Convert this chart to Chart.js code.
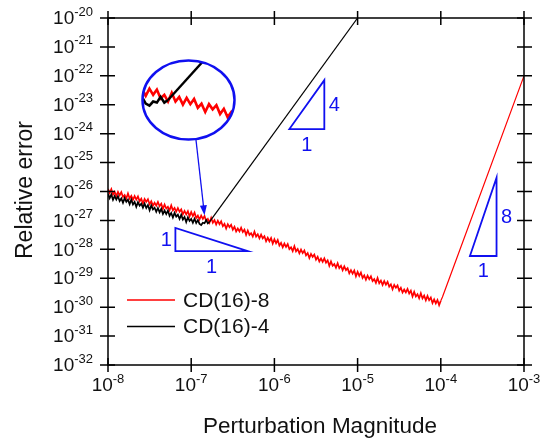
<!DOCTYPE html>
<html>
<head>
<meta charset="utf-8">
<script src="https://cdn.jsdelivr.net/npm/chart.js@4.4.1/dist/chart.umd.min.js"></script>
<style>
  html, body { margin: 0; padding: 0; background: #fff; }
  #wrap { position: relative; width: 543px; height: 442px; }
  #main { position: absolute; left: 0; top: 0; z-index: 2; }
  #zoomBox { position: absolute; left: 142px; top: 60px; width: 93px; height: 80px;
             border-radius: 50%; overflow: hidden; z-index: 1; }
</style>
</head>
<body>
<div id="wrap">
  <div id="zoomBox"><canvas id="inset" width="93" height="80"></canvas></div>
  <canvas id="main" width="543" height="442"></canvas>
</div>
<script>
// log10 of perturbation magnitude / relative error
const redExpX = [
  -8.00,-7.98,-7.96,-7.94,-7.92,-7.90,-7.88,-7.86,-7.84,-7.82,
  -7.80,-7.78,-7.76,-7.74,-7.72,-7.70,-7.68,-7.66,-7.64,-7.62,
  -7.60,-7.58,-7.56,-7.54,-7.52,-7.50,-7.48,-7.46,-7.44,-7.42,
  -7.40,-7.38,-7.36,-7.34,-7.32,-7.30,-7.28,-7.26,-7.24,-7.22,
  -7.20,-7.18,-7.16,-7.14,-7.12,-7.10,-7.08,-7.06,-7.04,-7.02,
  -7.00,-6.98,-6.96,-6.94,-6.92,-6.90,-6.88,-6.86,-6.84,-6.82,
  -6.80,-6.78,-6.76,-6.74,-6.72,-6.70,-6.68,-6.66,-6.64,-6.62,
  -6.60,-6.58,-6.56,-6.54,-6.52,-6.50,-6.48,-6.46,-6.44,-6.42,
  -6.40,-6.38,-6.36,-6.34,-6.32,-6.30,-6.28,-6.26,-6.24,-6.22,
  -6.20,-6.18,-6.16,-6.14,-6.12,-6.10,-6.08,-6.06,-6.04,-6.02,
  -6.00,-5.98,-5.96,-5.94,-5.92,-5.90,-5.88,-5.86,-5.84,-5.82,
  -5.80,-5.78,-5.76,-5.74,-5.72,-5.70,-5.68,-5.66,-5.64,-5.62,
  -5.60,-5.58,-5.56,-5.54,-5.52,-5.50,-5.48,-5.46,-5.44,-5.42,
  -5.40,-5.38,-5.36,-5.34,-5.32,-5.30,-5.28,-5.26,-5.24,-5.22,
  -5.20,-5.18,-5.16,-5.14,-5.12,-5.10,-5.08,-5.06,-5.04,-5.02,
  -5.00,-4.98,-4.96,-4.94,-4.92,-4.90,-4.88,-4.86,-4.84,-4.82,
  -4.80,-4.78,-4.76,-4.74,-4.72,-4.70,-4.68,-4.66,-4.64,-4.62,
  -4.60,-4.58,-4.56,-4.54,-4.52,-4.50,-4.48,-4.46,-4.44,-4.42,
  -4.40,-4.38,-4.36,-4.34,-4.32,-4.30,-4.28,-4.26,-4.24,-4.22,
  -4.20,-4.18,-4.16,-4.14,-4.12,-4.10,-4.08,-4.06,-4.04,-4.02,
  -4.00,-3.98,-3.00
];
const redExpY = [
  -25.91,-26.05,-25.92,-26.11,-26.01,-26.16,-26.01,-26.13,-26.02,-26.19,
  -26.12,-26.24,-26.07,-26.24,-26.15,-26.29,-26.16,-26.28,-26.17,-26.34,
  -26.25,-26.42,-26.26,-26.36,-26.27,-26.44,-26.34,-26.49,-26.39,-26.49,
  -26.36,-26.51,-26.42,-26.60,-26.45,-26.59,-26.53,-26.65,-26.48,-26.65,
  -26.57,-26.70,-26.57,-26.70,-26.62,-26.79,-26.67,-26.79,-26.68,-26.86,
  -26.71,-26.85,-26.73,-26.92,-26.83,-26.97,-26.83,-26.95,-26.85,-27.02,
  -26.95,-27.08,-26.91,-27.08,-26.99,-27.14,-27.01,-27.13,-27.03,-27.20,
  -27.12,-27.28,-27.13,-27.23,-27.15,-27.32,-27.22,-27.38,-27.28,-27.38,
  -27.25,-27.40,-27.32,-27.50,-27.35,-27.50,-27.44,-27.56,-27.39,-27.56,
  -27.48,-27.62,-27.49,-27.62,-27.55,-27.72,-27.60,-27.72,-27.61,-27.80,
  -27.65,-27.79,-27.68,-27.87,-27.78,-27.93,-27.80,-27.92,-27.82,-27.99,
  -27.93,-28.06,-27.89,-28.07,-27.99,-28.14,-28.01,-28.13,-28.04,-28.21,
  -28.13,-28.30,-28.16,-28.26,-28.18,-28.36,-28.26,-28.42,-28.32,-28.43,
  -28.31,-28.46,-28.38,-28.57,-28.42,-28.57,-28.51,-28.64,-28.48,-28.65,
  -28.57,-28.72,-28.59,-28.72,-28.65,-28.83,-28.72,-28.84,-28.73,-28.93,
  -28.78,-28.92,-28.80,-28.99,-28.90,-29.05,-28.91,-29.03,-28.93,-29.10,
  -29.03,-29.16,-28.99,-29.17,-29.08,-29.23,-29.10,-29.22,-29.12,-29.29,
  -29.21,-29.38,-29.23,-29.33,-29.25,-29.43,-29.33,-29.49,-29.39,-29.49,
  -29.37,-29.53,-29.43,-29.63,-29.47,-29.63,-29.55,-29.69,-29.52,-29.70,
  -29.60,-29.76,-29.61,-29.76,-29.67,-29.86,-29.73,-29.87,-29.75,-29.93,
  -29.78,-29.65,-22.00
];
const blackExpX = [
  -8.00,-7.98,-7.96,-7.94,-7.92,-7.90,-7.88,-7.86,-7.84,-7.82,
  -7.80,-7.78,-7.76,-7.74,-7.72,-7.70,-7.68,-7.66,-7.64,-7.62,
  -7.60,-7.58,-7.56,-7.54,-7.52,-7.50,-7.48,-7.46,-7.44,-7.42,
  -7.40,-7.38,-7.36,-7.34,-7.32,-7.30,-7.28,-7.26,-7.24,-7.22,
  -7.20,-7.18,-7.16,-7.14,-7.12,-7.10,-7.08,-7.06,-7.04,-7.02,
  -7.00,-6.98,-6.96,-6.94,-6.92,-6.90,-6.88,-6.86,-6.84,-6.82,
  -6.80,-6.78,-5.00
];
const blackExpY = [
  -26.08,-26.23,-26.10,-26.29,-26.16,-26.28,-26.16,-26.33,-26.24,-26.39,
  -26.23,-26.36,-26.28,-26.44,-26.28,-26.45,-26.36,-26.53,-26.37,-26.49,
  -26.42,-26.56,-26.42,-26.57,-26.47,-26.65,-26.48,-26.62,-26.56,-26.70,
  -26.57,-26.72,-26.60,-26.78,-26.66,-26.78,-26.66,-26.84,-26.74,-26.90,
  -26.74,-26.87,-26.80,-26.95,-26.80,-26.97,-26.88,-27.06,-26.89,-27.02,
  -26.95,-27.08,-26.94,-27.09,-26.99,-27.12,-27.16,-27.08,-27.10,-26.99,
  -27.10,-27.05,-20.00
];

const seriesNames = ['CD(16)-8', 'CD(16)-4'];
const xTickExp = [-8, -7, -6, -5, -4, -3];
const yTickExp = [-32, -31, -30, -29, -28, -27, -26, -25, -24, -23, -22, -21, -20];

// slope markers: [x0, x1, yLow, yHigh] as log10 values, plus the two labels
const slopeMarks = [
  { box: [-7.19, -6.32, -28.06, -27.26], rise: '1', run: '1', falling: true },
  { box: [-5.82, -5.40, -23.84, -22.15], rise: '4', run: '1', falling: false },
  { box: [-3.65, -3.33, -28.23, -25.52], rise: '8', run: '1', falling: false }
];
const arrowTip = [-6.84, -26.82];

const RED = '#ff0000';
const BLUE = '#1010f0';
const FONT = '"Liberation Sans", Arial, sans-serif';

const toPts = (xs, ys) => xs.map((e, i) => ({ x: Math.pow(10, e), y: Math.pow(10, ys[i]) }));

// noisy part drawn heavier, the clean straight rise drawn thin
function datasets(lw, riseLw) {
  const series = [
    { label: seriesNames[1], xs: blackExpX, ys: blackExpY, color: '#000', rise: 1 },
    { label: seriesNames[0], xs: redExpX, ys: redExpY, color: RED, rise: 2 }
  ];
  return series.map(s => ({
    label: s.label,
    data: toPts(s.xs, s.ys),
    borderColor: s.color,
    borderWidth: lw,
    pointRadius: 0,
    tension: 0,
    fill: false,
    segment: {
      borderWidth: c => (c.p1DataIndex >= s.xs.length - s.rise ? riseLw : lw)
    }
  }));
}

function powLabel(ctx, exp, x, y, align) {
  const base = '10', sup = String(exp);
  ctx.font = '19px ' + FONT;
  const w1 = ctx.measureText(base).width;
  ctx.font = '13px ' + FONT;
  const w2 = ctx.measureText(sup).width;
  let left = align === 'right' ? x - w1 - w2 : x - (w1 + w2) / 2;
  ctx.textAlign = 'left';
  ctx.textBaseline = 'middle';
  ctx.font = '19px ' + FONT;
  ctx.fillText(base, left, y + 1);
  ctx.font = '13px ' + FONT;
  ctx.fillText(sup, left + w1, y - 6);
}

const decor = {
  id: 'decor',
  afterDraw(chart) {
    const ctx = chart.ctx, a = chart.chartArea;
    const sx = chart.scales.x, sy = chart.scales.y;
    const px = e => sx.getPixelForValue(Math.pow(10, e));
    const py = e => sy.getPixelForValue(Math.pow(10, e));
    ctx.save();
    ctx.strokeStyle = '#000';
    ctx.fillStyle = '#111';
    ctx.lineWidth = 1.5;
    ctx.strokeRect(a.left, a.top, a.right - a.left, a.bottom - a.top);

    // ticks cross the frame on all four sides
    ctx.beginPath();
    xTickExp.forEach(e => {
      const x = px(e);
      ctx.moveTo(x, a.bottom - 7); ctx.lineTo(x, a.bottom + 7);
      ctx.moveTo(x, a.top - 7); ctx.lineTo(x, a.top + 7);
    });
    yTickExp.forEach(e => {
      const y = py(e);
      ctx.moveTo(a.left - 8, y); ctx.lineTo(a.left + 7, y);
      ctx.moveTo(a.right - 7, y); ctx.lineTo(a.right + 8, y);
    });
    ctx.stroke();

    xTickExp.forEach(e => powLabel(ctx, e, px(e), 385, 'center'));
    yTickExp.forEach(e => powLabel(ctx, e, a.left - 15, py(e), 'right'));

    // axis titles
    ctx.font = '22.5px ' + FONT;
    ctx.textAlign = 'center';
    ctx.textBaseline = 'middle';
    ctx.fillText('Perturbation Magnitude', 320, 427);
    ctx.save();
    ctx.translate(26, 190);
    ctx.rotate(-Math.PI / 2);
    ctx.font = '23px ' + FONT;
    ctx.fillText('Relative error', 0, 0);
    ctx.restore();

    // legend
    [[RED, seriesNames[0], 300], ['#000', seriesNames[1], 326.5]].forEach(([c, t, y]) => {
      ctx.strokeStyle = c;
      ctx.lineWidth = 1.5;
      ctx.beginPath(); ctx.moveTo(127, y); ctx.lineTo(175, y); ctx.stroke();
      ctx.fillStyle = '#111';
      ctx.font = '21px ' + FONT;
      ctx.textAlign = 'left';
      ctx.fillText(t, 183, y + 1);
    });

    // slope triangles
    ctx.strokeStyle = BLUE;
    ctx.fillStyle = BLUE;
    ctx.lineWidth = 1.8;
    ctx.font = '20px ' + FONT;
    slopeMarks.forEach(m => {
      const x0 = px(m.box[0]), x1 = px(m.box[1]);
      const yLo = py(m.box[2]), yHi = py(m.box[3]);
      ctx.beginPath();
      if (m.falling) {
        ctx.moveTo(x0, yHi); ctx.lineTo(x0, yLo); ctx.lineTo(x1, yLo);
      } else {
        ctx.moveTo(x0, yLo); ctx.lineTo(x1, yLo); ctx.lineTo(x1, yHi);
      }
      ctx.closePath();
      ctx.stroke();
      ctx.textBaseline = 'middle';
      ctx.textAlign = 'center';
      const vx = m.falling ? x0 - 9 : x1 + 10;
      ctx.fillText(m.rise, vx, (yLo + yHi) / 2 + 1);
      ctx.fillText(m.run, (x0 + x1) / 2, yLo + 16);
    });

    // magnifier outline and pointer
    ctx.lineWidth = 2.5;
    ctx.beginPath();
    ctx.ellipse(188.5, 100, 46, 39.5, 0, 0, Math.PI * 2);
    ctx.stroke();
    const tx = px(arrowTip[0]), ty = py(arrowTip[1]);
    const sx0 = 196, sy0 = 140;
    const ang = Math.atan2(ty - sy0, tx - sx0);
    ctx.lineWidth = 1.3;
    ctx.beginPath();
    ctx.moveTo(sx0, sy0);
    ctx.lineTo(tx - 8 * Math.cos(ang), ty - 8 * Math.sin(ang));
    ctx.stroke();
    ctx.beginPath();
    ctx.moveTo(tx, ty);
    ctx.lineTo(tx - 10 * Math.cos(ang) + 3.5 * Math.sin(ang), ty - 10 * Math.sin(ang) - 3.5 * Math.cos(ang));
    ctx.lineTo(tx - 10 * Math.cos(ang) - 3.5 * Math.sin(ang), ty - 10 * Math.sin(ang) + 3.5 * Math.cos(ang));
    ctx.closePath();
    ctx.fill();
    ctx.restore();
  }
};

new Chart(document.getElementById('main'), {
  type: 'line',
  data: { datasets: datasets(1.7, 1.2) },
  options: {
    responsive: false,
    animation: false,
    devicePixelRatio: 1,
    layout: { padding: { left: 108, right: 19, top: 18, bottom: 77 } },
    scales: {
      x: { type: 'logarithmic', min: 1e-8, max: 1e-3, display: false },
      y: { type: 'logarithmic', min: 1e-32, max: 1e-20, display: false }
    },
    plugins: { legend: { display: false }, tooltip: { enabled: false } }
  },
  plugins: [decor]
});

// magnified view around the turning point of CD(16)-4
new Chart(document.getElementById('inset'), {
  type: 'line',
  data: { datasets: datasets(2.6, 2.4) },
  options: {
    responsive: false,
    animation: false,
    devicePixelRatio: 1,
    layout: { padding: 0 },
    scales: {
      x: { type: 'logarithmic', min: Math.pow(10, -6.92), max: Math.pow(10, -6.42), display: false },
      y: { type: 'logarithmic', min: Math.pow(10, -27.82), max: Math.pow(10, -26.28), display: false }
    },
    plugins: { legend: { display: false }, tooltip: { enabled: false } }
  }
});
</script>
</body>
</html>
